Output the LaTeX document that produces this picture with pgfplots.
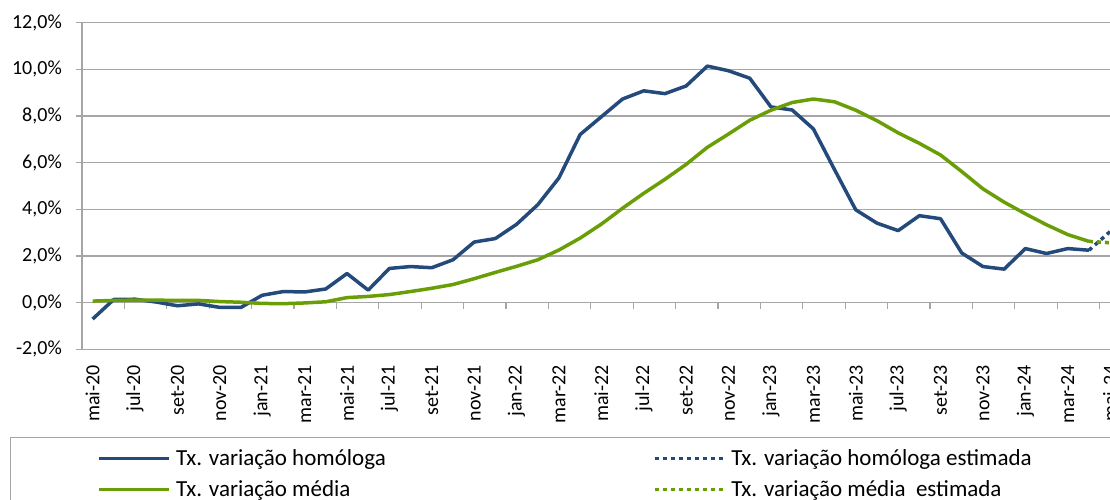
\documentclass[border=0pt]{standalone}
\usepackage{fontspec}
\setmainfont{Carlito}
\usepackage{pgfplots}
\pgfplotsset{compat=1.18}
\usepackage{pgfplotstable}
\definecolor{serblue}{RGB}{36,74,124}
\definecolor{sergreen}{RGB}{106,158,6}
\definecolor{gridgray}{RGB}{166,166,166}

\pgfplotstableread{
i hom med
0 -0.70 0.07
1 0.14 0.10
2 0.15 0.11
3 0.03 0.11
4 -0.13 0.10
5 -0.05 0.10
6 -0.20 0.05
7 -0.20 0.02
8 0.32 -0.03
9 0.48 -0.04
10 0.46 -0.01
11 0.59 0.04
12 1.25 0.22
13 0.54 0.27
14 1.47 0.35
15 1.55 0.48
16 1.50 0.62
17 1.84 0.78
18 2.60 1.03
19 2.75 1.30
20 3.36 1.56
21 4.20 1.84
22 5.35 2.26
23 7.21 2.77
24 7.97 3.37
25 8.73 4.05
26 9.08 4.69
27 8.96 5.29
28 9.29 5.93
29 10.14 6.66
30 9.94 7.23
31 9.62 7.82
32 8.39 8.25
33 8.26 8.58
34 7.45 8.73
35 5.70 8.61
36 3.98 8.25
37 3.41 7.80
38 3.09 7.28
39 3.73 6.83
40 3.60 6.33
41 2.13 5.62
42 1.55 4.88
43 1.44 4.31
44 2.32 3.81
45 2.11 3.34
46 2.32 2.92
47 2.25 2.63
}\datatable

\pgfplotstableread{
i hom med
47 2.25 2.63
48 3.05 2.57
}\esttable

\begin{document}
\begin{tikzpicture}
% overlay axis: x axis line at 0 with tick marks between categories
\begin{axis}[
  scale only axis, width=1038.8bp, height=326.7bp,
  at={(82bp,150.6bp)}, anchor=south west,
  xmin=-0.5, xmax=48.5, ymin=-2, ymax=12,
  axis x line=middle, axis y line=none,
  axis line style={-, draw=gridgray, line width=1.2bp},
  xtick={-0.5,1.5,...,47.5}, xticklabels={},
  ytick=\empty,
  tick align=outside, major tick length=6bp,
  xtick style={draw=gridgray, line width=1.2bp},
]
\addplot[draw=none] coordinates {(0,0)};
\end{axis}
% main axis
\begin{axis}[
  scale only axis, width=1038.8bp, height=326.7bp,
  at={(82bp,150.6bp)}, anchor=south west,
  xmin=-0.5, xmax=48.5, ymin=-2, ymax=12,
  axis x line*=bottom, axis y line*=left,
  x axis line style={draw=none},
  y axis line style={-, draw=gridgray, line width=1.2bp},
  ymajorgrids, grid style={draw=gridgray, line width=1.2bp},
  ytick={-2,0,...,12},
  xtick={0,2,...,48},
  xticklabels={mai-20,jul-20,set-20,nov-20,jan-21,mar-21,mai-21,jul-21,set-21,nov-21,jan-22,mar-22,mai-22,jul-22,set-22,nov-22,jan-23,mar-23,mai-23,jul-23,set-23,nov-23,jan-24,mar-24,mai-24},
  tick align=outside, major tick length=6bp,
  xtick style={draw=none},
  ytick style={draw=gridgray, line width=1.2bp},
  tick label style={font=\fontsize{20bp}{24bp}\selectfont, text=black},
  xticklabel style={rotate=90, anchor=east, inner sep=0pt},
  xticklabel shift=9.6bp,
  yticklabel style={inner sep=0pt},
  yticklabel shift=14bp,
  /pgf/number format/assume math mode=true,
  yticklabel={\pgfmathprintnumber[fixed,fixed zerofill,precision=1,use comma]{\tick}\%},
  legend columns=2,
  legend cell align=left,
  legend image code/.code={\draw[#1] (0bp,0bp) -- (70bp,0bp);},
  legend style={at={(-0.0693,-0.268)}, anchor=north west, draw=gridgray, line width=1.2bp,
    font=\fontsize{23bp}{27bp}\selectfont, inner xsep=87bp, inner ysep=10bp, row sep=10bp,
    /tikz/every odd column/.append style={column sep=3bp},
    /tikz/every even column/.append style={column sep=265bp}},
]
\addplot[serblue, line width=3.5bp, line join=round] table[x=i, y=hom] {\datatable};
\addlegendentry{Tx. variação homóloga}
\addplot[serblue, line width=3.5bp, dash pattern=on 4bp off 4bp] table[x=i, y=hom] {\esttable};
\addlegendentry{Tx. variação homóloga estimada}
\addplot[sergreen, line width=3.5bp, line join=round] table[x=i, y=med] {\datatable};
\addlegendentry{Tx. variação média}
\addplot[sergreen, line width=3.5bp, dash pattern=on 4bp off 4bp] table[x=i, y=med] {\esttable};
\addlegendentry{Tx. variação média\ \ estimada}
\end{axis}
\pgfresetboundingbox
\useasboundingbox (0,0) rectangle (1110bp,500bp);
\end{tikzpicture}
\end{document}
